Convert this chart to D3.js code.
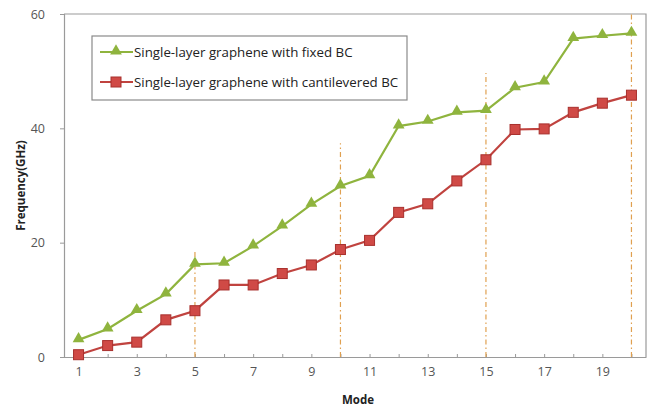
<!DOCTYPE html>
<html>
<head>
<meta charset="utf-8">
<script src="https://cdn.jsdelivr.net/npm/d3@7"></script>
<style>
  body { margin: 0; background: #fff; }
  svg text { font-family: "Open Sans", "Liberation Sans", sans-serif; }
</style>
</head>
<body>
<div id="chart"></div>
<script>
// modes 1..20
var modes = d3.range(1, 21);
var xTickLabels = [1, 3, 5, 7, 9, 11, 13, 15, 17, 19];
var yTicks = [0, 20, 40, 60];

var fixedBC = [3.0, 4.9, 8.1, 11.0, 16.2, 16.4, 19.4, 22.9, 26.7, 29.9, 31.7, 40.4, 41.2, 42.8, 43.1, 47.1, 48.1, 55.7, 56.2, 56.6];
var cantileverBC = [0.4, 2.0, 2.6, 6.5, 8.1, 12.6, 12.6, 14.6, 16.1, 18.8, 20.4, 25.3, 26.8, 30.8, 34.5, 39.8, 39.9, 42.8, 44.4, 45.8];

// dashed markers at these modes, top value of each guide line
var guideModes = [5, 10, 15, 20];
var guideTops = [18.5, 37.4, 49.7, 60];

var seriesNames = ["Single-layer graphene with fixed BC", "Single-layer graphene with cantilevered BC"];

var width = 653, height = 412;
var margin = {top: 14, right: 7, bottom: 55, left: 64};

var svg = d3.select("#chart").append("svg")
    .attr("width", width)
    .attr("height", height);

var x = d3.scalePoint()
    .domain(modes)
    .range([margin.left, width - margin.right])
    .padding(0.5);

var y = d3.scaleLinear()
    .domain([0, 60])
    .range([height - margin.bottom, margin.top]);

var green = "#8fb43e", red = "#c0433f";

// plot frame (top and right)
svg.append("path")
    .attr("d", "M" + margin.left + "," + margin.top + "H" + (width - margin.right) + "V" + y(0))
    .attr("fill", "none")
    .attr("stroke", "#9a9a9a")
    .attr("stroke-width", 1.2);

// y axis
var yAxis = svg.append("g")
    .attr("transform", "translate(" + margin.left + ",0)")
    .call(d3.axisLeft(y).tickValues(yTicks).tickSize(4).tickPadding(15));
yAxis.select(".domain").attr("stroke", "#9a9a9a").attr("stroke-width", 1.2);
yAxis.selectAll(".tick line").attr("stroke", "#9a9a9a");
yAxis.selectAll("text").attr("font-size", 12.5).attr("fill", "#555");

// x axis
var xAxis = svg.append("g")
    .attr("transform", "translate(0," + y(0) + ")")
    .call(d3.axisBottom(x).tickSize(-3).tickPadding(10).tickSizeOuter(0));
xAxis.select(".domain").attr("stroke", "#9a9a9a").attr("stroke-width", 1.2);
xAxis.selectAll(".tick line").attr("stroke", "#9a9a9a");
xAxis.selectAll("text")
    .attr("font-size", 12.5).attr("fill", "#555")
    .text(function(d) { return xTickLabels.indexOf(d) >= 0 ? d : ""; });

// axis titles
svg.append("text")
    .attr("transform", "translate(25," + y(30) + ") rotate(-90)")
    .attr("text-anchor", "middle")
    .attr("font-size", 11.5)
    .attr("font-weight", "bold")
    .attr("fill", "#222")
    .text("Frequency(GHz)");

svg.append("text")
    .attr("x", 358)
    .attr("y", 404)
    .attr("text-anchor", "middle")
    .attr("font-size", 11.5)
    .attr("font-weight", "bold")
    .attr("fill", "#222")
    .text("Mode");

// dash-dot guides
svg.selectAll(".guide")
    .data(guideModes)
  .enter().append("line")
    .attr("class", "guide")
    .attr("x1", function(d) { return x(d); })
    .attr("x2", function(d) { return x(d); })
    .attr("y1", y(0))
    .attr("y2", function(d, i) { return y(guideTops[i]); })
    .attr("stroke", "#e0a050")
    .attr("stroke-width", 1.2)
    .attr("stroke-dasharray", "5,3,1.5,3");

var line = d3.line()
    .x(function(d, i) { return x(modes[i]); })
    .y(function(d) { return y(d); });

var tri = d3.symbol().type(d3.symbolTriangle).size(60);

// cantilevered series
svg.append("path")
    .datum(cantileverBC)
    .attr("d", line)
    .attr("fill", "none")
    .attr("stroke", red)
    .attr("stroke-width", 2.2);
svg.selectAll(".sq")
    .data(cantileverBC)
  .enter().append("rect")
    .attr("class", "sq")
    .attr("x", function(d, i) { return x(modes[i]) - 5; })
    .attr("y", function(d) { return y(d) - 5; })
    .attr("width", 10).attr("height", 10)
    .attr("fill", "#d04a46")
    .attr("stroke", "#a8302d")
    .attr("stroke-width", 1);

// fixed series
svg.append("path")
    .datum(fixedBC)
    .attr("d", line)
    .attr("fill", "none")
    .attr("stroke", green)
    .attr("stroke-width", 2.2);
svg.selectAll(".tri")
    .data(fixedBC)
  .enter().append("path")
    .attr("class", "tri")
    .attr("d", tri)
    .attr("transform", function(d, i) { return "translate(" + x(modes[i]) + "," + (y(d) - 1) + ")"; })
    .attr("fill", green);

// legend
var lg = svg.append("g").attr("transform", "translate(92,36)");
lg.append("rect")
    .attr("width", 315).attr("height", 64)
    .attr("fill", "#fff")
    .attr("stroke", "#8a8a8a")
    .attr("stroke-width", 1.2);

var legendColors = [green, red];
seriesNames.forEach(function(name, i) {
  var ly = 16 + i * 30;
  lg.append("line")
      .attr("x1", 8).attr("x2", 41)
      .attr("y1", ly).attr("y2", ly)
      .attr("stroke", legendColors[i])
      .attr("stroke-width", 2.2);
  if (i === 0) {
    lg.append("path").attr("d", tri)
        .attr("transform", "translate(24," + (ly - 1) + ")")
        .attr("fill", green);
  } else {
    lg.append("rect")
        .attr("x", 19).attr("y", ly - 5)
        .attr("width", 10).attr("height", 10)
        .attr("fill", "#d04a46").attr("stroke", "#a8302d");
  }
  lg.append("text")
      .attr("x", 42).attr("y", ly + 4.5)
      .attr("font-size", 13.3)
      .attr("fill", "#222")
      .text(name);
});
</script>
</body>
</html>
